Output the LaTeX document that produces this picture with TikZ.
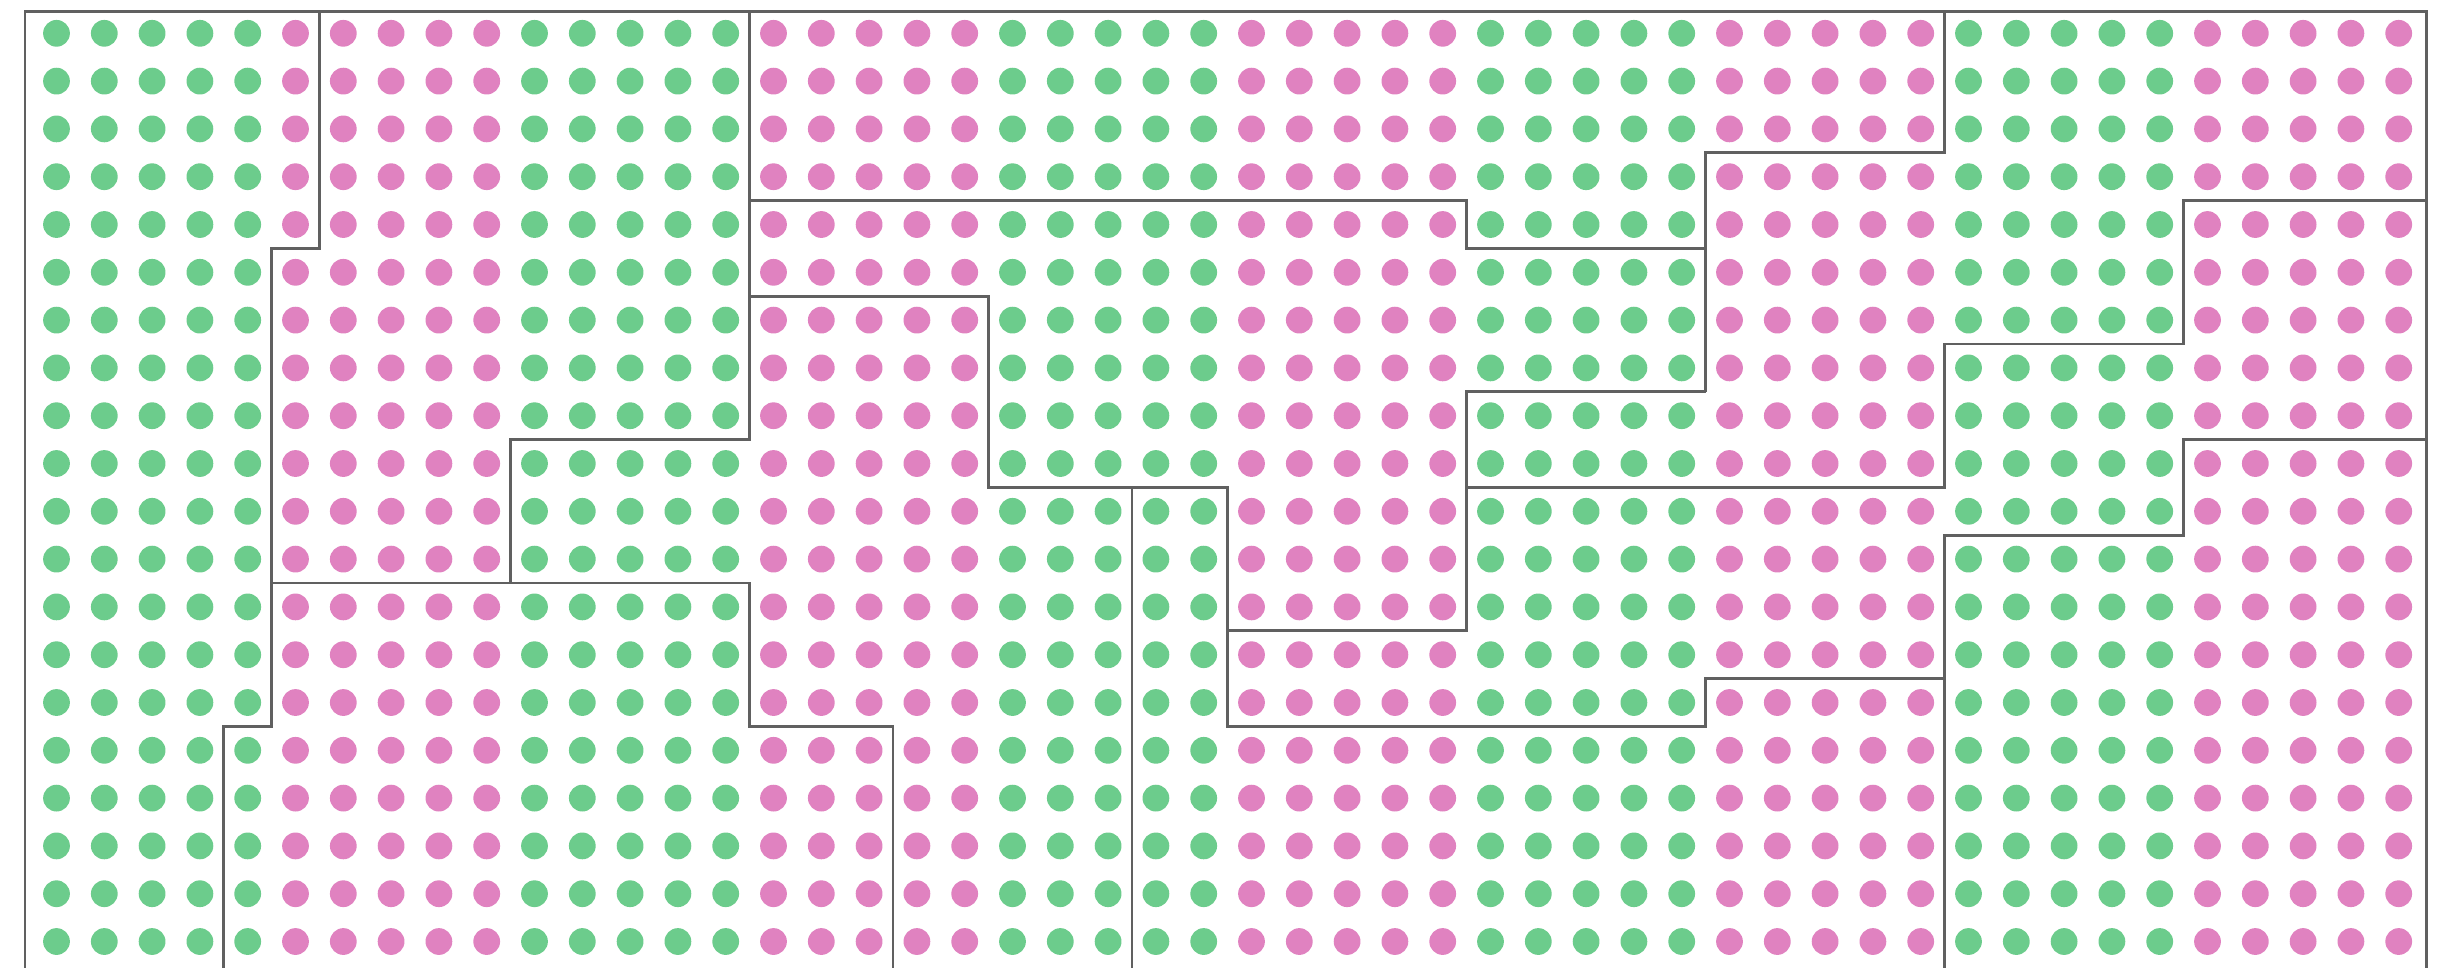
\documentclass[tikz,border=0pt]{standalone}
\definecolor{dotgreen}{RGB}{108,204,140}
\definecolor{dotpink}{RGB}{224,130,192}
\definecolor{wallgray}{RGB}{96,96,96}
\begin{document}
\begin{tikzpicture}[x=0.5cm,y=0.5cm,
  wall/.style={draw=wallgray,line width=0.85pt},
  dotmark/.style={line width=0pt}]
\useasboundingbox (-1.182,-19.554) rectangle (50.157,0.697);
\clip (-1.182,-19.554) rectangle (50.157,0.697);
\fill[white] (-1.182,-19.554) rectangle (50.157,0.697);
% dots: colour changes every 5 columns
\foreach \i in {0,...,49}{
  \pgfmathtruncatemacro{\blk}{mod(floor(\i/5),2)}
  \ifnum\blk=0 \def\dc{dotgreen}\else\def\dc{dotpink}\fi
  \foreach \j in {0,...,19}{
    \fill[\dc,dotmark] (\i,-\j) circle (0.28);
  }
}
% named corner points of the frame
\coordinate (tl) at (-0.659,0.452);
\coordinate (tr) at (49.58,0.452);
\coordinate (bl) at (-0.659,-19.6);
\coordinate (br) at (49.58,-19.6);
% outer frame
\draw[wall] (bl) -- (tl) -- (tr) -- (br);
% region boundaries
\draw[wall] (5.5,0.452) -- (5.5,-4.5) -- (4.5,-4.5) -- (4.5,-14.5) -- (3.5,-14.5) -- (3.5,-19.6);
\draw[wall] (14.5,0.452) -- (14.5,-8.5) -- (9.5,-8.5) -- (9.5,-11.5);
\draw[wall] (4.5,-11.5) -- (14.5,-11.5) -- (14.5,-14.5) -- (17.5,-14.5) -- (17.5,-19.6);
\draw[wall] (14.5,-3.5) -- (29.5,-3.5) -- (29.5,-4.5) -- (34.5,-4.5);
\draw[wall] (14.5,-5.5) -- (19.5,-5.5) -- (19.5,-9.5) -- (24.5,-9.5) -- (24.5,-14.5) -- (34.5,-14.5) -- (34.5,-13.5) -- (39.5,-13.5);
\draw[wall] (22.5,-9.5) -- (22.5,-19.6);
\draw[wall] (24.5,-12.5) -- (29.5,-12.5) -- (29.5,-7.5) -- (34.5,-7.5);
\draw[wall] (39.5,0.452) -- (39.5,-2.5) -- (34.5,-2.5) -- (34.5,-7.5);
\draw[wall] (29.5,-9.5) -- (39.5,-9.5) -- (39.5,-6.5) -- (44.5,-6.5) -- (44.5,-3.5) -- (49.58,-3.5);
\draw[wall] (39.5,-19.6) -- (39.5,-10.5) -- (44.5,-10.5) -- (44.5,-8.5) -- (49.58,-8.5);
\end{tikzpicture}
\end{document}
